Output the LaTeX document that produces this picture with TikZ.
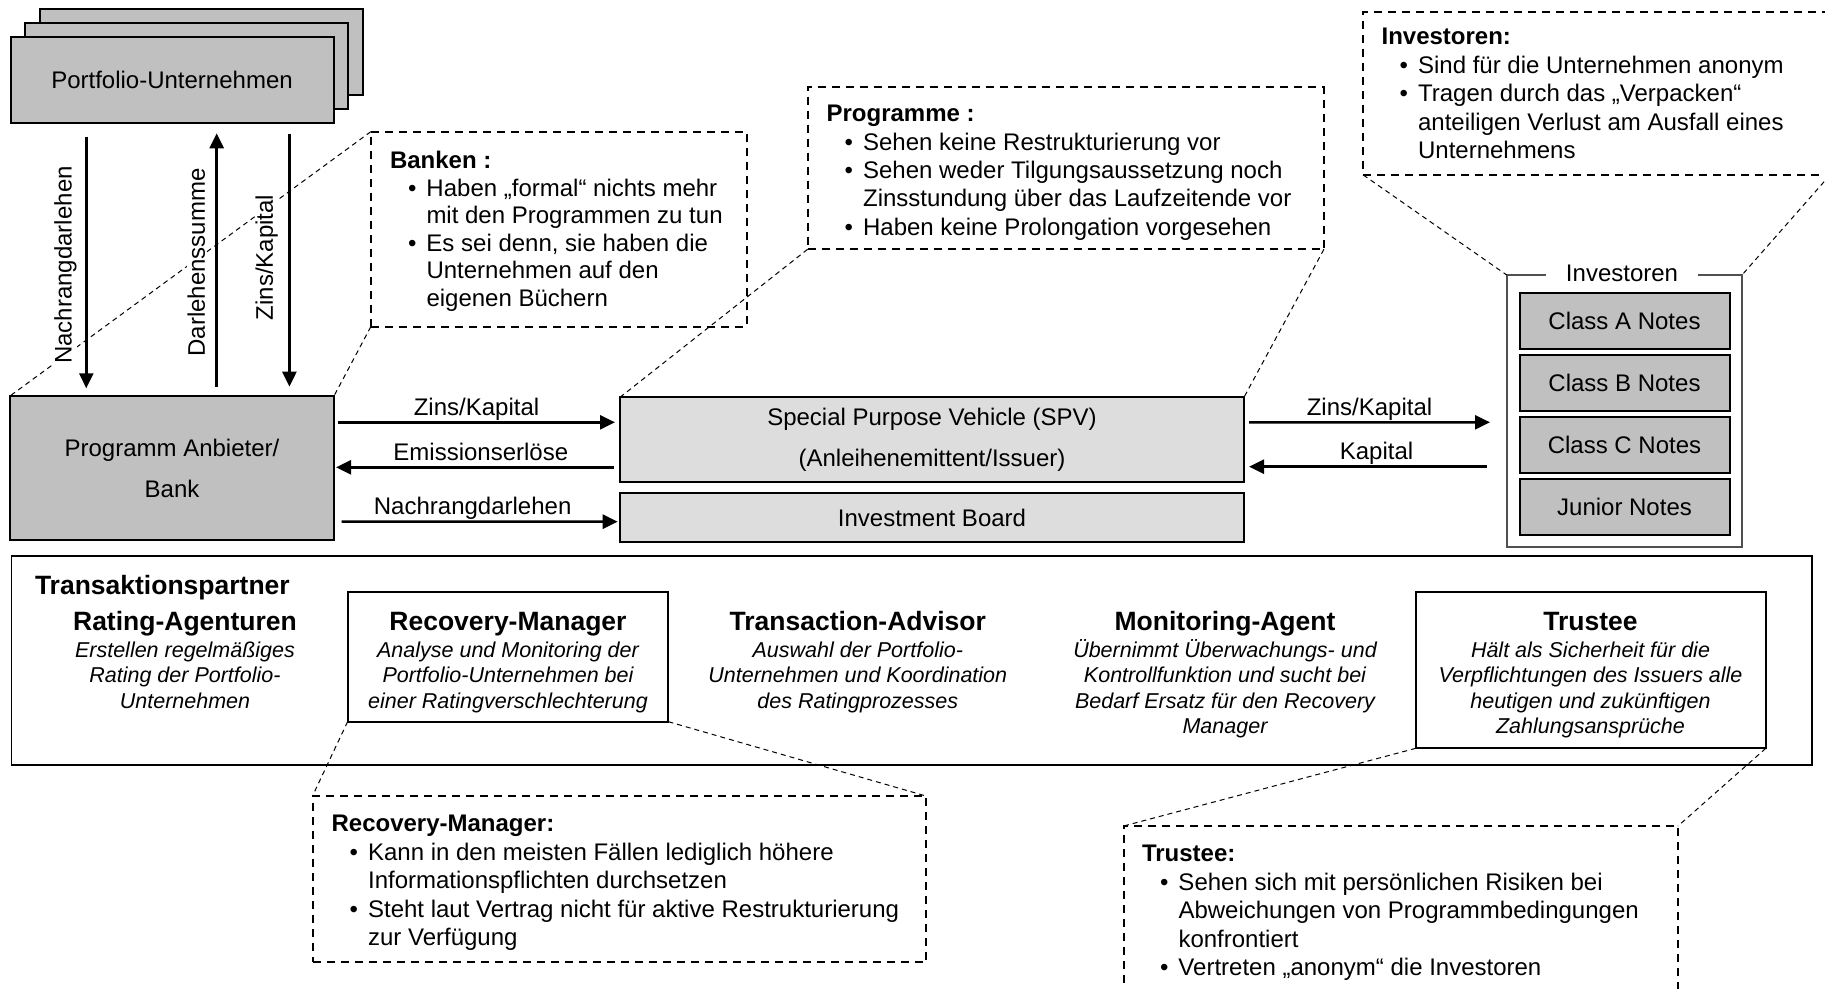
\documentclass[tikz,border=0pt]{standalone}
\usepackage{fontspec}
\setmainfont{Liberation Sans}
\usetikzlibrary{arrows.meta}
\definecolor{boxgray}{HTML}{C0C0C0}
\definecolor{spvgray}{HTML}{DDDDDD}
\definecolor{grpgray}{HTML}{505050}
\newcommand{\bitem}[1]{\hspace*{9pt}\makebox[9.25pt][l]{\textbullet}#1}
\newcommand{\bcont}[1]{\hspace*{18.25pt}#1}
\tikzset{
  every node/.style={inner sep=0pt, outer sep=0pt},
  graybox/.style={draw=black, line width=1pt, fill=boxgray, align=center, font=\fontsize{12}{20.5}\selectfont},
  spvbox/.style={draw=black, line width=1pt, fill=spvgray, align=center, font=\fontsize{12}{20.5}\selectfont},
  notebox/.style={draw=black, line width=1pt, fill=boxgray, minimum width=105pt, minimum height=28pt, font=\fontsize{12}{14}\selectfont},
  grpbox/.style={draw=grpgray, line width=1pt},
  callout/.style={draw=black, line width=1pt, dash pattern=on 4pt off 3pt},
  calltext/.style={anchor=base west, font=\fontsize{12}{14.2}\selectfont},
  zoomline/.style={draw=black, line width=0.5pt, dash pattern=on 2.5pt off 2pt},
  arr/.style={draw=black, line width=1.25pt, -{Triangle[length=7.5pt, width=7pt]}},
  flowlabel/.style={font=\fontsize{12}{14}\selectfont, anchor=base, yshift=3.5pt},
  vlabel/.style={font=\fontsize{12}{14}\selectfont, rotate=90, fill=white, inner xsep=2pt},
  ptitle/.style={font=\bfseries\fontsize{13.25}{16}\selectfont, anchor=base},
  ptext/.style={font=\itshape\fontsize{10.75}{12.8}\selectfont, anchor=base},
  pbox/.style={draw=black, line width=1pt},
  outerbox/.style={draw=black, line width=0.75pt},
}
\begin{document}
\begin{tikzpicture}[x=0.5pt, y=-0.5pt]
\clip (0,0) rectangle (1825,989);

% ---------- callout boxes (dashed) ----------
\node[callout, minimum width=187.85pt, minimum height=97.5pt] (bk) at (558.65,229.2) {};
\node[callout, minimum width=258.15pt, minimum height=81pt] (pg) at (1065.75,168.3) {};
\node[callout, minimum width=233.35pt, minimum height=81.65pt] (iv) at (1596.65,93.35) {};
\node[callout, minimum width=306.75pt, minimum height=83pt] (rmc) at (619.25,879) {};
\node[callout, minimum width=277.15pt, minimum height=92pt] (trc) at (1400.85,918) {};

% ---------- main boxes ----------
\node[graybox, minimum width=161.5pt, minimum height=43pt] (pf3) at (201,52) {};
\node[graybox, minimum width=161.5pt, minimum height=43pt] (pf2) at (186.5,66) {};
\node[graybox, minimum width=161.5pt, minimum height=43pt] (pf1) at (172,80) {Portfolio-Unternehmen};

\node[graybox, minimum width=162pt, minimum height=72pt] (bank) at (172,468) {Programm Anbieter/\\Bank};
\node[spvbox, minimum width=312pt, minimum height=42.2pt] (spv) at (932,439.5) {Special Purpose Vehicle (SPV)\\(Anleihenemittent/Issuer)};
\node[spvbox, minimum width=312pt, minimum height=24.5pt] (ib) at (932,517.8) {Investment Board};

\node[grpbox, minimum width=117.65pt, minimum height=135.85pt] (grp) at (1624.35,410.85) {};
\node[font=\fontsize{12}{14}\selectfont, fill=white, inner xsep=10pt, anchor=base] (grpt) at (1622,282) {Investoren};
\node[notebox] (ca) at (1624.5,321.3) {Class A Notes};
\node[notebox] (cb) at (1624.5,383.2) {Class B Notes};
\node[notebox] (cc) at (1624.5,444.8) {Class C Notes};
\node[notebox] (jn) at (1624.5,506.5) {Junior Notes};

% ---------- zoom connector lines ----------
\draw[zoomline] (bk.north west) -- (bank.north west);
\draw[zoomline] (bk.south west) -- (bank.north east);
\draw[zoomline] (pg.south west) -- (spv.north west);
\draw[zoomline] (pg.south east) -- (spv.north east);
\draw[zoomline] (iv.south west) -- (grp.north west);
\draw[zoomline] (iv.south east) -- (grp.north east);

% ---------- vertical labels ----------
\node[vlabel] (l1) at (65.4,265) {Nachrangdarlehen};
\node[vlabel] (l2) at (196.3,262.5) {Darlehenssumme};
\node[vlabel] (l3) at (266.6,257.5) {Zins/Kapital};

% ---------- vertical arrows ----------
\draw[arr] ([xshift=-42.85pt,yshift=-6.85pt]pf1.south) -- ([xshift=-42.85pt,yshift=3.85pt]bank.north);
\draw[arr] ([xshift=22.35pt,yshift=4.65pt]bank.north) -- ([xshift=22.35pt,yshift=-5.15pt]pf1.south);
\draw[arr] ([xshift=58.7pt,yshift=-5.65pt]pf1.south) -- ([xshift=58.7pt,yshift=4.65pt]bank.north);

% ---------- horizontal arrows ----------
\draw[arr] ([xshift=2pt,yshift=22.85pt]bank.east) -- ([xshift=-2.5pt,yshift=8.6pt]spv.west)
  node[flowlabel, pos=0.5] (t1) {Zins/Kapital};
\draw[arr] ([xshift=-3.2pt,yshift=-13.9pt]spv.west) -- ([xshift=1pt,yshift=0.35pt]bank.east)
  node[flowlabel, pos=0.5, xshift=3pt] (t2) {Emissionserlöse};
\draw[arr] ([xshift=3.8pt,yshift=-26.85pt]bank.east) -- ([xshift=-1.15pt,yshift=-1.95pt]ib.west)
  node[flowlabel, pos=0.5, xshift=-3.5pt] (t3) {Nachrangdarlehen};
\draw[arr] ([xshift=2.5pt,yshift=8.6pt]spv.east) -- ([xshift=-8.35pt,yshift=-5.725pt]grp.west)
  node[flowlabel, pos=0.5] (t4) {Zins/Kapital};
\draw[arr] ([xshift=-10.1pt,yshift=-27.925pt]grp.west) -- ([xshift=2.5pt,yshift=-13.6pt]spv.east)
  node[flowlabel, pos=0.5, xshift=4.4pt] (t5) {Kapital};

% ---------- callout texts ----------
\node[calltext, font=\fontsize{12}{13.8}\selectfont] (bkt) at (390,168.5) {\begin{tabular}[t]{@{}l@{}}
\textbf{Banken :}\\
\bitem{Haben „formal“ nichts mehr}\\
\bcont{mit den Programmen zu tun}\\
\bitem{Es sei denn, sie haben die}\\
\bcont{Unternehmen auf den}\\
\bcont{eigenen Büchern}
\end{tabular}};
\node[calltext] (pgt) at (826.6,121.8) {\begin{tabular}[t]{@{}l@{}}
\textbf{Programme :}\\
\bitem{Sehen keine Restrukturierung vor}\\
\bitem{Sehen weder Tilgungsaussetzung noch}\\
\bcont{Zinsstundung über das Laufzeitende vor}\\
\bitem{Haben keine Prolongation vorgesehen}
\end{tabular}};
\node[calltext, font=\fontsize{12}{14.3}\selectfont] (ivt) at (1381.6,44.5) {\begin{tabular}[t]{@{}l@{}}
\textbf{Investoren:}\\
\bitem{Sind für die Unternehmen anonym}\\
\bitem{Tragen durch das „Verpacken“}\\
\bcont{anteiligen Verlust am Ausfall eines}\\
\bcont{Unternehmens}
\end{tabular}};
\node[calltext] (rmt) at (331.6,831.8) {\begin{tabular}[t]{@{}l@{}}
\textbf{Recovery-Manager:}\\
\bitem{Kann in den meisten Fällen lediglich höhere}\\
\bcont{Informationspflichten durchsetzen}\\
\bitem{Steht laut Vertrag nicht für aktive Restrukturierung}\\
\bcont{zur Verfügung}
\end{tabular}};
\node[calltext] (trt) at (1142,861.8) {\begin{tabular}[t]{@{}l@{}}
\textbf{Trustee:}\\
\bitem{Sehen sich mit persönlichen Risiken bei}\\
\bcont{Abweichungen von Programmbedingungen}\\
\bcont{konfrontiert}\\
\bitem{Vertreten „anonym“ die Investoren}
\end{tabular}};

% ---------- Transaktionspartner ----------
\node[outerbox, minimum width=900.25pt, minimum height=104.5pt] (tp) at (911.75,660.5) {};
\node[pbox, minimum width=160.4pt, minimum height=64.7pt] (rm) at (508,657) {};
\node[pbox, minimum width=175pt, minimum height=78pt] (tr) at (1590.8,670.3) {};
\draw[zoomline] (rm.south west) -- (rmc.north west);
\draw[zoomline] (rm.south east) -- (rmc.north east);
\draw[zoomline] (tr.south west) -- (trc.north west);
\draw[zoomline] (tr.south east) -- (trc.north east);

\node[ptitle, anchor=base west] (tpt) at (35,594.5) {Transaktionspartner};

\node[ptitle] (rat) at (185,630.5) {Rating-Agenturen};
\node[ptext] (ratx) at (185,657) {\begin{tabular}[t]{@{}c@{}}Erstellen regelmäßiges\\Rating der Portfolio-\\Unternehmen\end{tabular}};
\node[ptitle] (rmtt) at (508,630.5) {Recovery-Manager};
\node[ptext] (rmx) at (508,657) {\begin{tabular}[t]{@{}c@{}}Analyse und Monitoring der\\Portfolio-Unternehmen bei\\einer Ratingverschlechterung\end{tabular}};
\node[ptitle] (tat) at (857.8,630.5) {Transaction-Advisor};
\node[ptext] (tax) at (857.8,657) {\begin{tabular}[t]{@{}c@{}}Auswahl der Portfolio-\\Unternehmen und Koordination\\des Ratingprozesses\end{tabular}};
\node[ptitle] (mat) at (1225,630.5) {Monitoring-Agent};
\node[ptext] (max) at (1225,657) {\begin{tabular}[t]{@{}c@{}}Übernimmt Überwachungs- und\\Kontrollfunktion und sucht bei\\Bedarf Ersatz für den Recovery\\Manager\end{tabular}};
\node[ptitle] (trtt) at (1590.5,630.5) {Trustee};
\node[ptext] (trx) at (1590.5,657) {\begin{tabular}[t]{@{}c@{}}Hält als Sicherheit für die\\Verpflichtungen des Issuers alle\\heutigen und zukünftigen\\Zahlungsansprüche\end{tabular}};
\end{tikzpicture}
\end{document}
